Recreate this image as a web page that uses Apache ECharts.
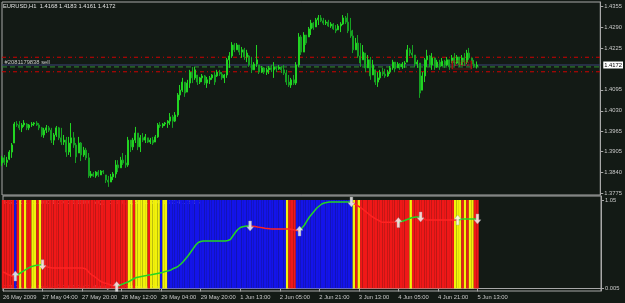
<!DOCTYPE html>
<html>
<head>
<meta charset="utf-8"/>
<title>EURUSD,H1</title>
<script src="https://cdn.jsdelivr.net/npm/echarts@6.0.0/dist/echarts.min.js"></script>
<style>
	* { padding: 0; margin: 0; }
	body { background: #131a15; }
	#chart { width: 625px; height: 303px; }
</style>
</head>
<body>
<div id="chart"></div>
<script>
// time axis labels, one every 16 hourly bars
var timeLabels = ['26 May 2009', '27 May 04:00', '27 May 20:00', '28 May 12:00', '29 May 04:00', '29 May 20:00',
	'1 Jun 13:00', '2 Jun 05:00', '2 Jun 21:00', '3 Jun 13:00', '4 Jun 05:00', '4 Jun 21:00', '5 Jun 13:00'];
var priceTicks = [1.4355, 1.4290, 1.4225, 1.4095, 1.4030, 1.3965, 1.3905, 1.3840, 1.3775];
var indTicks = [1.05, 0.005];

// order lines
var bidPrice = 1.4172;
var orderPrice = 1.4166;
var stopPrice = 1.4196;
var takePrice = 1.4151;
var orderLabel = '#2081179838 sell';

// hourly bars: [open, close, low, high]
var bars = [
	[1.3868,1.3884,1.3859,1.3890],[1.3884,1.3870,1.3862,1.3893],[1.3870,1.3877,1.3856,1.3887],[1.3880,1.3902,1.3877,1.3908],
	[1.3902,1.3924,1.3884,1.3930],[1.3930,1.3989,1.3930,1.3995],[1.3989,1.3986,1.3980,1.3998],[1.3986,1.3977,1.3970,1.3998],
	[1.3977,1.3986,1.3964,1.3992],[1.3986,1.3992,1.3980,1.4001],[1.3989,1.3977,1.3970,1.3992],[1.3977,1.3986,1.3970,1.3989],
	[1.3986,1.3989,1.3980,1.3995],[1.3989,1.3992,1.3983,1.3995],[1.3992,1.3986,1.3983,1.3998],[1.3986,1.3977,1.3970,1.3992],
	[1.3977,1.3955,1.3949,1.3980],[1.3955,1.3970,1.3946,1.3977],[1.3970,1.3977,1.3961,1.3986],[1.3977,1.3970,1.3964,1.3983],
	[1.3970,1.3939,1.3930,1.3977],[1.3939,1.3955,1.3924,1.3961],[1.3955,1.3977,1.3949,1.3983],[1.3977,1.3946,1.3939,1.3980],
	[1.3946,1.3933,1.3924,1.3977],[1.3933,1.3939,1.3924,1.3955],[1.3939,1.3902,1.3887,1.3949],[1.3902,1.3930,1.3893,1.3949],
	[1.3930,1.3946,1.3887,1.3992],[1.3946,1.3924,1.3915,1.3964],[1.3924,1.3887,1.3868,1.3930],[1.3899,1.3930,1.3899,1.3949],
	[1.3930,1.3893,1.3874,1.3933],[1.3893,1.3908,1.3887,1.3918],[1.3908,1.3884,1.3877,1.3915],[1.3884,1.3828,1.3822,1.3899],
	[1.3828,1.3834,1.3822,1.3843],[1.3834,1.3828,1.3825,1.3840],[1.3828,1.3840,1.3822,1.3843],[1.3840,1.3831,1.3825,1.3846],
	[1.3831,1.3843,1.3831,1.3846],[1.3843,1.3840,1.3834,1.3846],[1.3831,1.3815,1.3806,1.3831],[1.3815,1.3809,1.3794,1.3828],
	[1.3809,1.3825,1.3809,1.3834],[1.3825,1.3834,1.3815,1.3840],[1.3834,1.3862,1.3822,1.3877],[1.3862,1.3853,1.3840,1.3877],
	[1.3853,1.3877,1.3853,1.3887],[1.3877,1.3868,1.3862,1.3899],[1.3868,1.3862,1.3853,1.3893],[1.3862,1.3939,1.3856,1.3949],
	[1.3939,1.3918,1.3902,1.3939],[1.3918,1.3939,1.3908,1.3946],[1.3939,1.3961,1.3930,1.3980],[1.3961,1.3918,1.3908,1.3961],
	[1.3918,1.3946,1.3902,1.3955],[1.3946,1.3939,1.3933,1.3961],[1.3939,1.3949,1.3930,1.3958],[1.3946,1.3933,1.3930,1.3946],
	[1.3933,1.3939,1.3927,1.3946],[1.3939,1.3930,1.3924,1.3949],[1.3933,1.3949,1.3933,1.3955],[1.3949,1.3986,1.3946,1.3992],
	[1.3986,1.3983,1.3977,1.3995],[1.3983,1.3989,1.3977,1.3992],[1.3989,1.3992,1.3983,1.3995],[1.3992,1.3998,1.3977,1.4001],
	[1.3998,1.4011,1.3986,1.4023],[1.4011,1.3998,1.3977,1.4017],[1.3998,1.4017,1.3995,1.4026],[1.4017,1.4079,1.4011,1.4085],
	[1.4079,1.4094,1.4063,1.4110],[1.4094,1.4119,1.4088,1.4132],[1.4119,1.4085,1.4073,1.4119],[1.4088,1.4116,1.4088,1.4126],
	[1.4116,1.4150,1.4101,1.4157],[1.4150,1.4132,1.4116,1.4166],[1.4132,1.4157,1.4126,1.4166],[1.4141,1.4119,1.4110,1.4141],
	[1.4119,1.4132,1.4113,1.4135],[1.4132,1.4138,1.4119,1.4144],[1.4138,1.4116,1.4110,1.4141],[1.4116,1.4126,1.4101,1.4135],
	[1.4126,1.4132,1.4113,1.4138],[1.4132,1.4141,1.4126,1.4144],[1.4141,1.4119,1.4110,1.4150],[1.4138,1.4150,1.4135,1.4157],
	[1.4150,1.4144,1.4138,1.4157],[1.4144,1.4132,1.4126,1.4150],[1.4132,1.4141,1.4116,1.4144],[1.4141,1.4188,1.4132,1.4194],
	[1.4188,1.4200,1.4163,1.4212],[1.4200,1.4234,1.4194,1.4243],[1.4234,1.4219,1.4212,1.4240],[1.4219,1.4234,1.4219,1.4240],
	[1.4234,1.4212,1.4203,1.4234],[1.4212,1.4219,1.4194,1.4228],[1.4219,1.4197,1.4188,1.4225],[1.4197,1.4209,1.4181,1.4219],
	[1.4200,1.4172,1.4166,1.4203],[1.4172,1.4157,1.4147,1.4197],[1.4157,1.4175,1.4157,1.4181],[1.4175,1.4188,1.4166,1.4234],
	[1.4172,1.4150,1.4144,1.4172],[1.4150,1.4163,1.4147,1.4169],[1.4163,1.4150,1.4144,1.4166],[1.4150,1.4157,1.4141,1.4163],
	[1.4157,1.4163,1.4144,1.4169],[1.4163,1.4157,1.4150,1.4172],[1.4157,1.4166,1.4132,1.4181],[1.4166,1.4160,1.4150,1.4169],
	[1.4160,1.4166,1.4157,1.4172],[1.4166,1.4157,1.4147,1.4169],[1.4157,1.4147,1.4141,1.4172],[1.4147,1.4119,1.4110,1.4157],
	[1.4119,1.4110,1.4104,1.4141],[1.4110,1.4126,1.4101,1.4132],[1.4126,1.4116,1.4110,1.4141],[1.4116,1.4172,1.4110,1.4181],
	[1.4172,1.4259,1.4166,1.4271],[1.4259,1.4212,1.4203,1.4265],[1.4212,1.4265,1.4212,1.4274],[1.4265,1.4240,1.4234,1.4265],
	[1.4259,1.4284,1.4259,1.4290],[1.4284,1.4302,1.4265,1.4312],[1.4302,1.4287,1.4281,1.4305],[1.4290,1.4312,1.4290,1.4318],
	[1.4312,1.4318,1.4296,1.4327],[1.4318,1.4309,1.4305,1.4327],[1.4309,1.4302,1.4296,1.4318],[1.4302,1.4305,1.4296,1.4312],
	[1.4305,1.4293,1.4290,1.4312],[1.4293,1.4299,1.4287,1.4305],[1.4299,1.4284,1.4281,1.4302],[1.4284,1.4278,1.4271,1.4296],
	[1.4281,1.4293,1.4281,1.4299],[1.4293,1.4299,1.4274,1.4305],[1.4299,1.4318,1.4296,1.4327],[1.4318,1.4305,1.4299,1.4324],
	[1.4305,1.4278,1.4271,1.4333],[1.4278,1.4262,1.4256,1.4318],[1.4262,1.4219,1.4209,1.4281],[1.4219,1.4240,1.4219,1.4256],
	[1.4240,1.4200,1.4194,1.4265],[1.4200,1.4178,1.4166,1.4240],[1.4188,1.4212,1.4188,1.4234],[1.4209,1.4163,1.4150,1.4209],
	[1.4163,1.4188,1.4163,1.4203],[1.4188,1.4138,1.4126,1.4197],[1.4141,1.4172,1.4141,1.4188],[1.4157,1.4119,1.4110,1.4157],
	[1.4119,1.4132,1.4104,1.4150],[1.4132,1.4150,1.4126,1.4157],[1.4150,1.4144,1.4138,1.4163],[1.4144,1.4138,1.4132,1.4160],
	[1.4138,1.4150,1.4135,1.4157],[1.4150,1.4163,1.4144,1.4169],[1.4163,1.4181,1.4157,1.4188],[1.4181,1.4160,1.4150,1.4181],
	[1.4163,1.4175,1.4163,1.4181],[1.4175,1.4166,1.4157,1.4178],[1.4166,1.4175,1.4160,1.4181],[1.4175,1.4178,1.4163,1.4184],
	[1.4181,1.4219,1.4181,1.4234],[1.4219,1.4209,1.4200,1.4225],[1.4209,1.4203,1.4194,1.4234],[1.4203,1.4175,1.4166,1.4203],
	[1.4175,1.4181,1.4163,1.4188],[1.4178,1.4085,1.4070,1.4178],[1.4094,1.4138,1.4094,1.4150],[1.4138,1.4188,1.4119,1.4194],
	[1.4188,1.4200,1.4166,1.4219],[1.4200,1.4172,1.4166,1.4203],[1.4172,1.4194,1.4157,1.4209],[1.4194,1.4166,1.4157,1.4194],
	[1.4166,1.4181,1.4163,1.4188],[1.4181,1.4166,1.4157,1.4188],[1.4169,1.4184,1.4169,1.4194],[1.4184,1.4172,1.4163,1.4188],
	[1.4172,1.4188,1.4169,1.4197],[1.4188,1.4166,1.4157,1.4188],[1.4178,1.4194,1.4178,1.4203],[1.4194,1.4178,1.4169,1.4209],
	[1.4178,1.4197,1.4175,1.4203],[1.4197,1.4172,1.4166,1.4197],[1.4172,1.4194,1.4172,1.4203],[1.4194,1.4181,1.4169,1.4209],
	[1.4181,1.4209,1.4175,1.4219],[1.4209,1.4194,1.4188,1.4225],[1.4194,1.4175,1.4169,1.4194],[1.4175,1.4168,1.4163,1.4188],
	[1.4168,1.4172,1.4161,1.4183]
];

// indicator histogram colour per bar (R red, Y yellow, B blue), 10 bars per row
var stripeRows = [
	'RRRRRBRYRY', 'RRYYRYRRRR', 'RRRRRRRRRR', 'RRRRRRRRRR', 'RRRRRRRRRR',
	'RYYRYYYYYR', 'YYYYBYYBBB', 'BBBBBBBBBB', 'BBBBBBBBBB', 'BBBBBBBBBB',
	'BBBBBBBBBB', 'BBBBBYRRRB', 'BBBBBBBBBB', 'BBBBBBBBBB', 'BBYRYRRRRR',
	'RRRRRRRRRR', 'RRRRRYRRRR', 'RRRRRRRRRR', 'RRRYYYRYRY', 'YRR'
];
var stripeLevel = 1.05;

// indicator line per bar
var lineVals = [
	0.195,0.183,0.165,0.153,0.142,0.148,0.165,0.183,0.201,0.219,
	0.237,0.254,0.264,0.272,0.276,0.278,0.281,0.266,0.254,0.248,
	0.243,0.243,0.243,0.243,0.243,0.243,0.243,0.243,0.243,0.243,
	0.243,0.243,0.243,0.237,0.219,0.183,0.159,0.142,0.118,0.094,
	0.076,0.064,0.058,0.047,0.035,0.029,0.023,0.035,0.047,0.058,
	0.070,0.082,0.100,0.118,0.130,0.136,0.142,0.148,0.153,0.159,
	0.162,0.168,0.174,0.180,0.185,0.195,0.203,0.209,0.219,0.237,
	0.248,0.266,0.290,0.320,0.355,0.391,0.433,0.474,0.516,0.545,
	0.557,0.563,0.563,0.563,0.563,0.563,0.563,0.563,0.563,0.563,
	0.563,0.569,0.581,0.623,0.664,0.700,0.723,0.732,0.738,0.741,
	0.741,0.738,0.734,0.729,0.725,0.720,0.715,0.712,0.708,0.706,
	0.706,0.706,0.706,0.706,0.706,0.706,0.706,0.700,0.694,0.688,
	0.682,0.718,0.753,0.801,0.848,0.884,0.919,0.955,0.979,1.003,
	1.014,1.020,1.026,1.026,1.026,1.026,1.026,1.026,1.026,1.026,
	1.026,1.026,1.008,0.991,0.973,0.955,0.931,0.908,0.884,0.860,
	0.842,0.824,0.807,0.789,0.785,0.785,0.785,0.785,0.785,0.785,
	0.783,0.795,0.801,0.813,0.824,0.836,0.842,0.848,0.848,0.848,
	0.830,0.815,0.813,0.813,0.813,0.813,0.813,0.813,0.813,0.813,
	0.813,0.813,0.813,0.813,0.813,0.818,0.824,0.824,0.824,0.824,
	0.824,0.824,0.824
];

// arrow signals: [bar index, direction]
var signals = [[5,'up'],[16,'down'],[46,'up'],[100,'down'],[120,'up'],[141,'down'],[160,'up'],[169,'down'],[184,'up'],[192,'down']];

var stripeColors = { R: '#f01818', Y: '#f2f20a', B: '#1414ea' };
var upColor = '#22d622';
var downColor = '#ff2222';
var textColor = '#c8c8c8';
var frameColor = '#a8a8a8';
var font = 'Liberation Sans';

// empty slots on the right of the last bar, as in the terminal
var slotCount = 243;
var axisCats = [];
for (var i = 0; i < slotCount; i++) axisCats.push(String(i));
var firstCat = axisCats[0];
var lastCat = axisCats[slotCount - 1];

var stripeCodes = stripeRows.join('').split('');
var stripeData = stripeCodes.map(function (c) {
	return { value: stripeLevel, itemStyle: { color: stripeColors[c] } };
});

var pieces = [{ lt: signals[0][0], color: signals[0][1] === 'up' ? downColor : upColor }];
signals.forEach(function (s, k) {
	var p = { gte: s[0], color: s[1] === 'up' ? upColor : downColor };
	if (k + 1 < signals.length) p.lt = signals[k + 1][0];
	pieces.push(p);
});

var upArrow = 'path://M5,0 L10,5 L7,5 L7,12 L3,12 L3,5 L0,5 Z';
var downArrow = 'path://M3,0 L7,0 L7,7 L10,7 L5,12 L0,7 L3,7 Z';
var arrowData = signals.map(function (s) {
	return { value: [String(s[0]), lineVals[s[0]]], symbol: s[1] === 'up' ? upArrow : downArrow };
});

var last = bars[bars.length - 1];
var titleText = 'EURUSD,H1  ' + [last[0], last[3], last[2], last[1]].map(function (v) { return v.toFixed(4); }).join(' ');

function timeTick(i) { return i % 16 === 0 && i / 16 < timeLabels.length; }

// a horizontal price level across the whole price pane
function levelSeries(price, color, type, extra) {
	var s = {
		type: 'line', xAxisIndex: 0, yAxisIndex: 0, z: 1, silent: true, showSymbol: false,
		data: [[firstCat, price], [lastCat, price]],
		lineStyle: { color: color, type: type, width: 1 }
	};
	for (var k in extra) s[k] = extra[k];
	return s;
}

var chart = echarts.init(document.getElementById('chart'));
chart.setOption({
	animation: false,
	backgroundColor: '#131a15',
	title: {
		text: titleText, left: 3, top: 3, padding: 0,
		textStyle: { color: '#e0e0e0', fontSize: 5.8, fontWeight: 'normal', fontFamily: font }
	},
	grid: [
		{ left: 2, top: 2, width: 599, height: 193, show: true, borderColor: frameColor, borderWidth: 1, backgroundColor: 'transparent' },
		{ left: 2, top: 196, width: 599, height: 95, show: true, borderColor: frameColor, borderWidth: 1, backgroundColor: 'transparent' }
	],
	xAxis: [
		{ type: 'category', gridIndex: 0, data: axisCats, boundaryGap: false, show: false },
		{
			type: 'category', gridIndex: 1, data: axisCats, boundaryGap: false,
			axisLine: { lineStyle: { color: frameColor } },
			axisTick: { show: true, length: 3, interval: timeTick, lineStyle: { color: frameColor } },
			axisLabel: {
				interval: timeTick, align: 'left', margin: 3, color: textColor, fontSize: 5.8, fontFamily: font,
				formatter: function (v, i) { return timeLabels[i / 16]; }
			},
			splitLine: { show: false }
		}
	],
	yAxis: [
		{
			type: 'value', gridIndex: 0, position: 'right', min: 1.37688, max: 1.43674,
			axisLine: { show: true, lineStyle: { color: frameColor } },
			axisTick: { show: true, length: 3, customValues: priceTicks, lineStyle: { color: frameColor } },
			axisLabel: {
				customValues: priceTicks, margin: 4, color: textColor, fontSize: 5.8, fontFamily: font,
				formatter: function (v) { return v.toFixed(4); }
			},
			splitLine: { show: false }
		},
		{
			type: 'value', gridIndex: 1, position: 'right', min: -0.0306, max: 1.0975,
			axisLine: { show: true, lineStyle: { color: frameColor } },
			axisTick: { show: true, length: 3, customValues: indTicks, lineStyle: { color: frameColor } },
			axisLabel: {
				customValues: indTicks, margin: 4, color: textColor, fontSize: 5.8, fontFamily: font,
				formatter: function (v) { return String(v); }
			},
			splitLine: { show: false }
		}
	],
	visualMap: { show: false, type: 'piecewise', seriesIndex: 6, dimension: 0, pieces: pieces },
	series: [
		levelSeries(stopPrice, '#d00000', [4, 3, 1, 3]),
		levelSeries(takePrice, '#d00000', [4, 3, 1, 3]),
		levelSeries(bidPrice, '#3c4678', 'solid', {
			endLabel: {
				show: true, distance: 3, formatter: bidPrice.toFixed(4),
				backgroundColor: '#ffffff', color: '#000000', padding: [1, 1, 0, 1], fontSize: 5.8, fontFamily: font
			}
		}),
		levelSeries(orderPrice, '#2f8f2f', [5, 3], {
			markPoint: {
				symbol: 'rect', symbolSize: [1, 1], silent: true, animation: false,
				data: [{ coord: [firstCat, orderPrice] }],
				itemStyle: { color: 'rgba(0,0,0,0)' },
				label: { show: true, position: [3, -7], align: 'left', formatter: orderLabel, color: textColor, fontSize: 5.8, fontFamily: font }
			}
		}),
		{
			type: 'candlestick', xAxisIndex: 0, yAxisIndex: 0, data: bars, barWidth: 1.5, z: 3,
			itemStyle: { color: '#22d422', color0: '#16a022', borderColor: '#22d422', borderColor0: '#16a022', borderWidth: 1 },
			markPoint: {
				symbol: 'rect', symbolSize: [19, 8], silent: true, animation: false,
				data: [{ coord: ['186', bidPrice] }],
				itemStyle: { color: 'rgba(0,0,0,0)', borderColor: '#a01010', borderWidth: 1 },
				label: { show: true, position: 'inside', formatter: bidPrice.toFixed(4), color: '#c01818', fontSize: 5, fontFamily: font }
			}
		},
		{
			type: 'bar', xAxisIndex: 1, yAxisIndex: 1, data: stripeData, barCategoryGap: '0%', silent: true
		},
		{
			type: 'line', xAxisIndex: 1, yAxisIndex: 1, data: lineVals, showSymbol: false, z: 5,
			lineStyle: { width: 1.5 }
		},
		{
			type: 'scatter', xAxisIndex: 1, yAxisIndex: 1, data: arrowData, symbolSize: [7, 10], z: 6,
			itemStyle: { color: '#ffffff', borderColor: '#9a9a9a', borderWidth: 0.5 }
		}
	],
	graphic: [
		{
			type: 'text', left: 4, top: 199, silent: true,
			style: { text: 'HG(0.001) 1.0000 1.0000 0.0000   VQ( 10, 3, 0, 1, 5)  1.3904 1.3934 1.3918', fill: '#e8e8e8', fontSize: 5.8, fontFamily: font }
		},
		{
			type: 'text', left: 3, top: 284, silent: true,
			style: { text: 'FXDD - MetaTrader, \u00a9 2001-2009 MetaQuotes Software Corp.', fill: textColor, fontSize: 5.8, fontFamily: font }
		}
	]
});
</script>
</body>
</html>
